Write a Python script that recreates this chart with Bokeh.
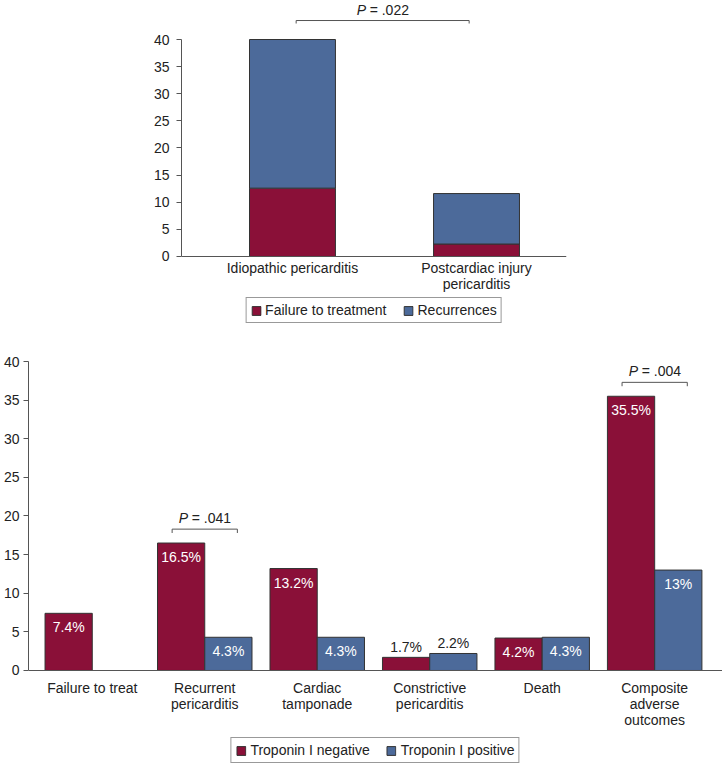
from bokeh.plotting import figure
from bokeh.models import Range1d, FixedTicker, LinearAxis, Legend, LegendItem, ColumnDataSource
from bokeh.transform import dodge
from bokeh.core.properties import value
from bokeh.embed import file_html
from bokeh.resources import INLINE

# ---------------- data ----------------
top_categories = ["Idiopathic pericarditis", "Postcardiac injury\npericarditis"]
top_failure = [12.6, 2.3]
top_recurrences = [27.4, 9.3]
top_series = ["Failure to treatment", "Recurrences"]
top_p_value = "= .022"

bottom_categories = ["Failure to treat", "Recurrent\npericarditis", "Cardiac\ntamponade",
                     "Constrictive\npericarditis", "Death", "Composite\nadverse\noutcomes"]
troponin_negative = [7.4, 16.5, 13.2, 1.7, 4.2, 35.5]
troponin_positive = [None, 4.3, 4.3, 2.2, 4.3, 13.0]
bottom_series = ["Troponin I negative", "Troponin I positive"]
bottom_p_index = [1, 5]
bottom_p_values = ["= .041", "= .004"]

y_ticks = [0, 5, 10, 15, 20, 25, 30, 35, 40]

# ---------------- style ----------------
RED = "#8A1038"
BLUE = "#4C6A9A"
EDGE = "#333333"
AXIS = "#555555"
TXT = "#222222"
FONT = "Liberation Sans"
FS = "14px"


def style_axis(ax, standoff):
    ax.axis_line_color = AXIS
    ax.major_tick_line_color = AXIS
    ax.minor_tick_line_color = None
    ax.major_label_text_font = FONT
    ax.major_label_text_font_size = FS
    ax.major_label_text_color = TXT
    ax.major_label_text_line_height = 1.0
    ax.major_label_standoff = standoff


def base_fig(w, h, xr, yr, left, right, top, bottom):
    p = figure(width=w, height=h, x_range=Range1d(*xr), y_range=Range1d(*yr),
               output_backend="svg", toolbar_location=None,
               x_axis_location=None, y_axis_location=None,
               min_border_left=left, min_border_right=right,
               min_border_top=top, min_border_bottom=bottom)
    p.xgrid.visible = False
    p.ygrid.visible = False
    p.outline_line_color = None
    p.background_fill_color = "white"
    p.border_fill_color = "white"
    return p


def add_axes(p, categories, xstandoff, ystandoff):
    xax = LinearAxis(fixed_location=0,
                     ticker=FixedTicker(ticks=list(range(len(categories)))),
                     major_label_overrides={i: c for i, c in enumerate(categories)},
                     major_tick_in=0, major_tick_out=0, minor_tick_in=0, minor_tick_out=0)
    style_axis(xax, xstandoff)
    p.add_layout(xax, "below")
    yax = LinearAxis(bounds=(0, 40), ticker=FixedTicker(ticks=y_ticks),
                     major_tick_in=0, major_tick_out=5, minor_tick_in=0, minor_tick_out=0)
    style_axis(yax, ystandoff)
    p.add_layout(yax, "left")


def add_bracket(p, x0, x1, y, dy, ptext):
    p.line(x=[x0, x0, x1, x1], y=[y - dy, y, y, y - dy], line_color=AXIS, line_width=1)
    xc = (x0 + x1) / 2
    p.text(x=[xc], y=[y], text=["P"], text_font=value(FONT), text_font_size=FS,
           text_font_style="italic", text_color=TXT, text_align="left",
           text_baseline="alphabetic", x_offset=-26, y_offset=-11)
    p.text(x=[xc], y=[y], text=[ptext], text_font=value(FONT), text_font_size=FS,
           text_color=TXT, text_align="left", text_baseline="alphabetic",
           x_offset=-13, y_offset=-11)


def make_legend(items, margin):
    lg = Legend(items=items, location="bottom_center", orientation="horizontal",
                label_text_font=FONT, label_text_font_size=FS, label_text_color=TXT,
                glyph_width=11, glyph_height=11, label_standoff=4, spacing=16,
                padding=4, margin=margin, label_height=14,
                border_line_color=EDGE, border_line_width=1,
                background_fill_color="white", background_fill_alpha=1)
    return lg


# ---------------- top chart ----------------
p1 = base_fig(722, 345, (-0.603, 1.489), (-16.41, 47.19), 181, 156, 0, 0)
add_axes(p1, top_categories, 4, 7)

src1 = ColumnDataSource(dict(x=list(range(len(top_categories))),
                             failure=top_failure, recurrences=top_recurrences))
stack = p1.vbar_stack(["failure", "recurrences"], x="x", width=0.467, source=src1,
                      fill_color=[RED, BLUE], line_color=EDGE, line_width=1)

top_total = max(f + r for f, r in zip(top_failure, top_recurrences))
add_bracket(p1, 0 + 0.02, len(top_categories) - 1 - 0.04, top_total + 3.5, 0.55, top_p_value)

p1.add_layout(make_legend([LegendItem(label=top_series[0], renderers=[stack[0]]),
                           LegendItem(label=top_series[1], renderers=[stack[1]])], 22), "center")

# ---------------- bottom chart ----------------
p2 = base_fig(722, 420, (-0.567, 5.603), (-12.30, 40), 26, 0, 16, 0)
add_axes(p2, bottom_categories, 10, 4)

nan = float("nan")
idx = list(range(len(bottom_categories)))
src2 = ColumnDataSource(dict(x=idx, neg=troponin_negative,
                             pos=[nan if v is None else v for v in troponin_positive]))
BW = 0.42
rn = p2.vbar(x=dodge("x", -BW / 2), top="neg", width=BW, source=src2,
             fill_color=RED, line_color=EDGE, line_width=1)
rp = p2.vbar(x=dodge("x", BW / 2), top="pos", width=BW, source=src2,
             fill_color=BLUE, line_color=EDGE, line_width=1)

ins = dict(x=[], y=[], t=[])
outs = dict(x=[], y=[], t=[])
for series, off in ((troponin_negative, -BW / 2), (troponin_positive, BW / 2)):
    for i, v in enumerate(series):
        if v is None:
            continue
        d = ins if v >= 3 else outs
        d["x"].append(i + off)
        d["y"].append(v)
        d["t"].append(f"{v:g}%")
p2.text(x="x", y="y", text="t", source=ColumnDataSource(ins), text_font=value(FONT),
        text_font_size=FS, text_color="white", text_align="center",
        text_baseline="middle", y_offset=14)
p2.text(x="x", y="y", text="t", source=ColumnDataSource(outs), text_font=value(FONT),
        text_font_size=FS, text_color=TXT, text_align="center",
        text_baseline="middle", y_offset=-10)

for i, pv in zip(bottom_p_index, bottom_p_values):
    vals = [v for v in (troponin_negative[i], troponin_positive[i]) if v is not None]
    add_bracket(p2, i - 0.29, i + 0.29, max(vals) + 1.8, 0.5, pv)

p2.add_layout(make_legend([LegendItem(label=bottom_series[0], renderers=[rn]),
                           LegendItem(label=bottom_series[1], renderers=[rp])], 2), "center")

open("out.html", "w").write(file_html([p1, p2], INLINE))
